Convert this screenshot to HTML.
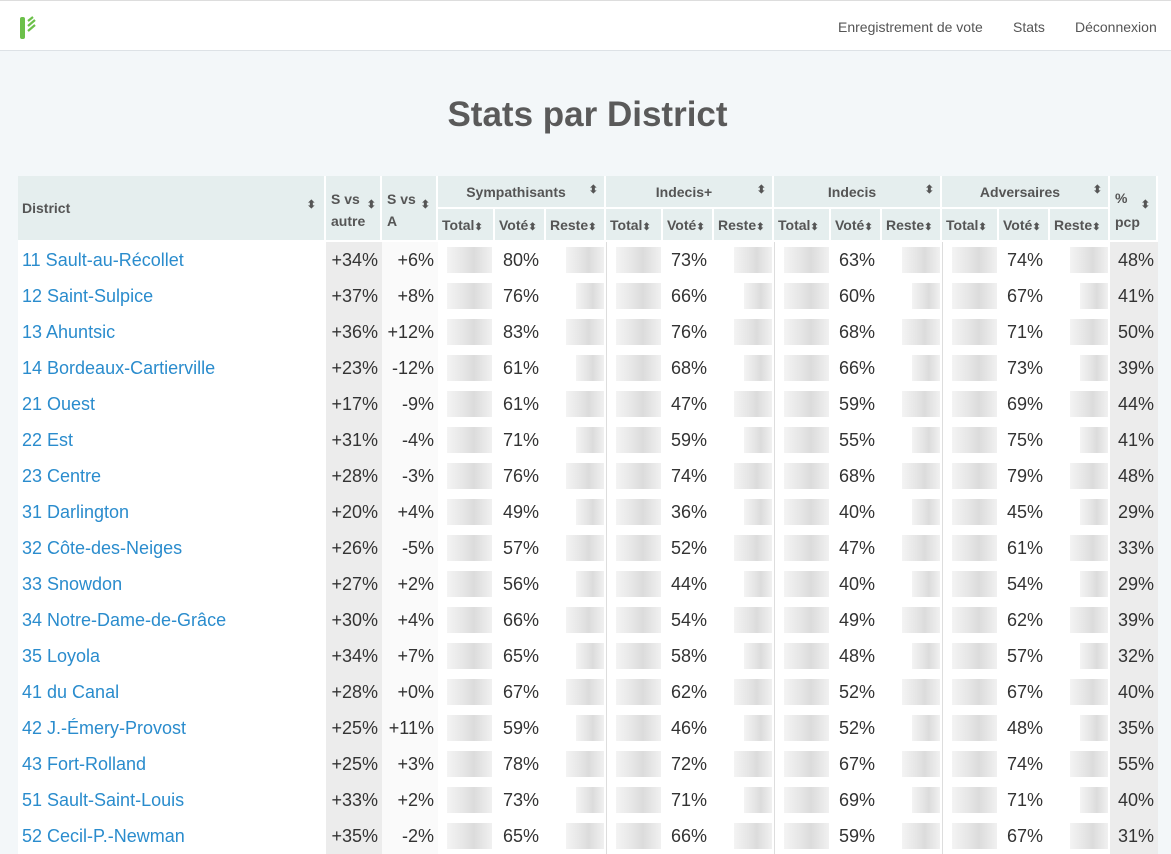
<!DOCTYPE html>
<html><head><meta charset="utf-8">
<style>
body{margin:0;width:1171px;height:854px;overflow:hidden;background:#f3f7f9;font-family:"Liberation Sans",sans-serif;position:relative}
.nav{position:absolute;left:0;top:0;width:1171px;height:51px;background:#fff;border-top:1px solid #ddd;border-bottom:1px solid #dde2e6;box-sizing:border-box}
.nav a{position:absolute;top:18px;font-size:14px;color:#555;text-decoration:none}
h1{position:absolute;left:0;width:1175px;top:95px;margin:0;text-align:center;font-size:35px;font-weight:bold;color:#5a5a5a}
.c{position:absolute;box-sizing:border-box}
.h{background:#e5eeee;color:#555;font-weight:bold;font-size:14px;border-right:2px solid #fff;border-bottom:2px solid #fff}
.r{font-size:18px;color:#333;height:36px;line-height:36px}
.blur{position:absolute;height:26px;top:5px;background:linear-gradient(90deg,#f0f0f0,#dcdcdc 40%,#d0d0d0 60%,#ececec);opacity:.75}
</style></head><body>
<div class="nav">
<svg style="position:absolute;left:20px;top:14px" width="20" height="26"><rect x="0" y="2" width="5" height="22" rx="2" fill="#6cc04a"/><path d="M8 6l5-4M8 11l7-6M8 16l7-6" stroke="#6cc04a" stroke-width="2.2"/></svg>
<a style="left:838px">Enregistrement de vote</a>
<a style="left:1013px">Stats</a>
<a style="left:1075px">Déconnexion</a>
</div>
<h1>Stats par District</h1>
<div id="t"></div>
<script>
const districts=["11 Sault-au-Récollet","12 Saint-Sulpice","13 Ahuntsic","14 Bordeaux-Cartierville","21 Ouest","22 Est","23 Centre","31 Darlington","32 Côte-des-Neiges","33 Snowdon","34 Notre-Dame-de-Grâce","35 Loyola","41 du Canal","42 J.-Émery-Provost","43 Fort-Rolland","51 Sault-Saint-Louis","52 Cecil-P.-Newman"];
const sVsAutre=["+34%","+37%","+36%","+23%","+17%","+31%","+28%","+20%","+26%","+27%","+30%","+34%","+28%","+25%","+25%","+33%","+35%"];
const sVsA=["+6%","+8%","+12%","-12%","-9%","-4%","-3%","+4%","-5%","+2%","+4%","+7%","+0%","+11%","+3%","+2%","-2%"];
const symVote=[80,76,83,61,61,71,76,49,57,56,66,65,67,59,78,73,65];
const indPVote=[73,66,76,68,47,59,74,36,52,44,54,58,62,46,72,71,66];
const indVote=[63,60,68,66,59,55,68,40,47,40,49,48,52,52,67,69,59];
const advVote=[74,67,71,73,69,75,79,45,61,54,62,57,67,48,74,71,67];
const pcp=[48,41,50,39,44,41,48,29,33,29,39,32,40,35,55,40,31];
const t=document.getElementById('t');
function cell(x,y,w,h,cls,html,name,inter){const d=document.createElement('div');d.className='c '+cls;
d.style.left=x+'px';d.style.top=y+'px';d.style.width=w+'px';d.style.height=h+'px';d.innerHTML=html;


t.appendChild(d);return d;}
cell(18,176,308,66,'h','<div style="position:absolute;left:4px;top:24px">District</div><div style="position:absolute;right:8px;top:22px;font-size:11px">⬍</div>','header-district',true);
cell(326,176,56,66,'h','<div style="position:absolute;left:5px;top:12px;line-height:22px">S vs<br>autre</div><div style="position:absolute;right:4px;top:22px;font-size:11px">⬍</div>','header-s-vs-autre',true);
cell(382,176,56,66,'h','<div style="position:absolute;left:5px;top:12px;line-height:22px">S vs<br>A</div><div style="position:absolute;right:6px;top:22px;font-size:11px">⬍</div>','header-s-vs-a',true);
const groups=["Sympathisants","Indecis+","Indecis","Adversaires"];
const gx=[438,606,774,942];
groups.forEach((g,i)=>{const x=gx[i];
cell(x,176,168,33,'h','<div style="text-align:center;line-height:32px;padding-right:10px">'+g+'</div><div style="position:absolute;right:6px;top:7px;font-size:11px">⬍</div>','header-'+g.toLowerCase().replace('+','-plus'),true);
[["Total",57],["Voté",51],["Reste",60]].forEach((s,j)=>{const ox=[0,57,108][j];
cell(x+ox,209,s[1],33,'h','<div style="position:absolute;left:4px;top:8px">'+s[0]+'<span style="font-size:10px">⬍</span></div>','header-'+s[0].toLowerCase()+'-'+i,true);});});
cell(1110,176,48,66,'h','<div style="position:absolute;left:5px;top:10px;line-height:24px">%<br>pcp</div><div style="position:absolute;right:6px;top:22px;font-size:11px">⬍</div>','header-pcp',true);
const votes=[symVote,indPVote,indVote,advVote];
districts.forEach((d,r)=>{const y=242+r*36;
cell(18,y,308,36,'r','<a style="color:#2a8ccd;padding-left:4px">'+d+'</a>','district-link',true).style.background='#fff';
cell(326,y,56,36,'r','<div style="text-align:right;padding-right:4px">'+sVsAutre[r]+'</div>','s-vs-autre-cell',false).style.background='#ececec';
cell(382,y,56,36,'r','<div style="text-align:right;padding-right:4px">'+sVsA[r]+'</div>','s-vs-a-cell',false).style.background='#fafafa';
gx.forEach((x,i)=>{
const c1=cell(x,y,57,36,'r','<div class="blur" style="left:9px;width:45px"></div>','blurred-total',false);c1.style.background='#fff';
const c2=cell(x+57,y,51,36,'r','<div style="padding-left:8px">'+votes[i][r]+'%</div>','vote-percent',false);c2.style.background='#fff';
const c3=cell(x+108,y,60,36,'r','<div class="blur" style="left:'+(r%2?30:20)+'px;width:'+(r%2?28:38)+'px"></div>','blurred-reste',false);c3.style.background='#fff';
if(i>0)c1.style.borderLeft='1px solid #ddd';});
cell(1110,y,48,36,'r','<div style="text-align:right;padding-right:4px">'+pcp[r]+'%</div>','pcp-cell',false).style.background='#ececec';
});
</script>
</body></html>
